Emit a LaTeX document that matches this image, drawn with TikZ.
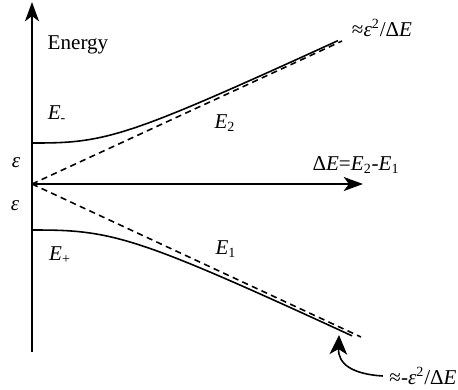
\documentclass[tikz,border=0pt]{standalone}
\usepackage{fontspec}
\setmainfont{Liberation Serif}
\usetikzlibrary{arrows.meta}

\tikzset{
  asym/.style={dash pattern=on 3.5pt off 2.5pt},
  lvl/.style={samples=80, smooth}
}
\newcommand{\En}[1]{\textit{E}\textsubscript{#1}}
\newcommand{\eps}{\textit{ε}}

\begin{document}
\begin{tikzpicture}[>={Stealth[length=11pt,width=8pt,inset=3pt]}, line width=0.9pt, font=\fontsize{12}{14}\selectfont]
  \useasboundingbox (-0.64,-4.1) rectangle (8.52,3.68);
  % axes
  \coordinate (O) at (0,0);
  \coordinate (ybot) at (0,-3.36);
  \coordinate (ytop) at (0,3.64);
  \coordinate (xend) at (6.62,0);
  \draw[->] (ybot) -- (ytop);
  \draw[->] (O) -- (xend);
  % uncoupled levels (dashed)
  \coordinate (up) at (6.2,2.86);
  \coordinate (dn) at (6.58,-3.06);
  \draw[asym] (O) -- (up);
  \draw[asym] (O) -- (dn);
  % coupled levels
  \draw[lvl] plot[domain=0:6.12] (\x,{(0.82^3+(0.465*\x)^3)^(1/3)});
  \draw[lvl] plot[domain=0:6.4] (\x,{-(0.92^3+(0.47*\x)^3)^(1/3)});
  % labels
  \node (energy) at (0.92,2.78) {Energy};
  \node (Em) at (0.5,1.4) {\En{-}};
  \node (Ep) at (0.56,-1.42) {\En{+}};
  \node (E2) at (3.86,1.22) {\En{2}};
  \node (E1) at (3.88,-1.3) {\En{1}};
  \node (epsu) at (-0.32,0.42) {\eps};
  \node (epsd) at (-0.34,-0.44) {\eps};
  \node (dE) at (6.48,0.38) {Δ\textit{E}=\En{2}-\En{1}};
  \node (hi) at (7.0,3.12) {≈\eps\textsuperscript{2}/Δ\textit{E}};
  \node (lo) at (7.82,-3.84) {≈-\eps\textsuperscript{2}/Δ\textit{E}};
  % pointer to the lower asymptote
  \coordinate (tip) at (6.14,-3.02);
  \draw[-{Stealth[length=11pt,width=10pt,inset=3pt]}] (lo.west) .. controls (6.4,-3.8) and (6.12,-3.6) .. (tip);
\end{tikzpicture}
\end{document}
